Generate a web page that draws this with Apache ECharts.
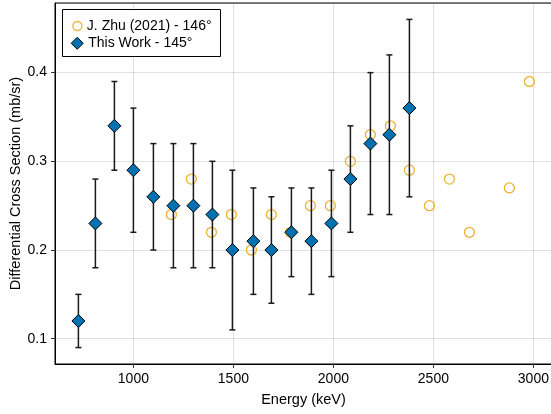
<!DOCTYPE html>
<html>
<head>
<meta charset="utf-8">
<script src="https://cdn.jsdelivr.net/npm/echarts@6/dist/echarts.min.js"></script>
<style>
html,body{margin:0;padding:0;background:#fff;}
#chart{width:551px;height:414px;}
</style>
</head>
<body>
<div id="chart"></div>
<script>
// This Work - 145°
const energyThisWork = [725, 810, 905, 1000, 1100, 1200, 1300, 1395, 1495, 1600, 1690, 1790, 1890, 1990, 2085, 2185, 2280, 2380];
const csThisWork     = [0.12, 0.23, 0.34, 0.29, 0.26, 0.25, 0.25, 0.24, 0.20, 0.21, 0.20, 0.22, 0.21, 0.23, 0.28, 0.32, 0.33, 0.36];
const lowThisWork    = [0.09, 0.18, 0.29, 0.22, 0.20, 0.18, 0.18, 0.18, 0.11, 0.15, 0.14, 0.17, 0.15, 0.17, 0.22, 0.24, 0.24, 0.26];
const highThisWork   = [0.15, 0.28, 0.39, 0.36, 0.32, 0.32, 0.32, 0.30, 0.29, 0.27, 0.26, 0.27, 0.27, 0.29, 0.34, 0.40, 0.42, 0.46];
// J. Zhu (2021) - 146°
const energyZhu = [1190, 1290, 1390, 1490, 1590, 1690, 1785, 1885, 1985, 2085, 2185, 2285, 2380, 2480, 2580, 2680, 2880, 2980];
const csZhu     = [0.24, 0.28, 0.22, 0.24, 0.20, 0.24, 0.22, 0.25, 0.25, 0.30, 0.33, 0.34, 0.29, 0.25, 0.28, 0.22, 0.27, 0.39];

const nameZhu = 'J. Zhu (2021) - 146°';
const nameWork = 'This Work - 145°';
const xTitle = 'Energy (keV)';
const yTitle = 'Differential Cross Section (mb/sr)';

const FONT = '"Liberation Sans", Arial, sans-serif';
const chart = echarts.init(document.getElementById('chart'), null, {renderer: 'canvas'});

const errData = energyThisWork.map((e, i) => [e, lowThisWork[i], highThisWork[i]]);

const legendText = {fontFamily: FONT, fontSize: 14, color: '#000', lineHeight: 16};

chart.setOption({
  animation: false,
  backgroundColor: '#fff',
  textStyle: {fontFamily: FONT},
  grid: {left: 55, top: 3, width: 497, height: 361, containLabel: false, outerBoundsMode: 'none',
    show: true, borderColor: '#000', borderWidth: 1, backgroundColor: 'transparent'},
  graphic: [
    {
      type: 'rect', z: 50, silent: true,
      shape: {x: 62.5, y: 9.5, width: 158, height: 47},
      style: {fill: '#fff', stroke: '#000', lineWidth: 1}
    },
    {
      type: 'text', z: 50, silent: true,
      x: 15.5, y: 183.5, rotation: Math.PI / 2,
      style: {text: yTitle, fontFamily: FONT, fontSize: 14.5, fill: '#000', align: 'center', verticalAlign: 'middle'}
    }
  ],
  legend: [
    {
      left: 72.2, top: 18, orient: 'vertical', padding: 0, z: 60,
      itemWidth: 9, itemHeight: 9, selectedMode: false,
      textStyle: legendText,
      data: [{name: nameZhu, icon: 'circle', itemStyle: {color: '#fff', borderColor: '#E69F00', borderWidth: 1.3}}]
    },
    {
      left: 70.7, top: 35.3, orient: 'vertical', padding: 0, z: 60,
      itemWidth: 12, itemHeight: 12, selectedMode: false,
      textStyle: legendText,
      data: [{name: nameWork, icon: 'diamond', itemStyle: {color: '#0072B2', borderColor: '#000', borderWidth: 1}}]
    }
  ],
  xAxis: {
    type: 'value', min: 608, max: 3093, splitNumber: 5,
    name: xTitle, nameLocation: 'middle', nameGap: 28,
    nameTextStyle: {fontFamily: FONT, fontSize: 14.5, color: '#000'},
    axisLine: {show: true, lineStyle: {color: '#000', width: 1}},
    axisTick: {show: true, inside: false, length: 4, lineStyle: {color: '#333', width: 1}},
    axisLabel: {margin: 8, fontFamily: FONT, fontSize: 14, color: '#000', showMinLabel: false, showMaxLabel: false,
      formatter: v => String(Math.round(v))},
    splitLine: {show: true, lineStyle: {color: 'rgba(0,0,0,0.12)', width: 1}}
  },
  yAxis: {
    type: 'value', min: 0.0715, max: 0.4785, splitNumber: 4,
    axisLine: {show: true, lineStyle: {color: '#000', width: 1}},
    axisTick: {show: true, inside: false, length: 4, lineStyle: {color: '#333', width: 1}},
    axisLabel: {margin: 8, fontFamily: FONT, fontSize: 14, color: '#000', showMinLabel: false, showMaxLabel: false,
      formatter: v => (Math.round(v * 10) / 10).toString()},
    splitLine: {show: true, lineStyle: {color: 'rgba(0,0,0,0.12)', width: 1}}
  },
  series: [
    {
      name: nameZhu, type: 'scatter', symbol: 'circle', symbolSize: 10, z: 2,
      itemStyle: {color: 'rgba(255,255,255,0)', borderColor: '#E69F00', borderWidth: 1.3},
      data: energyZhu.map((e, i) => [e, csZhu[i]])
    },
    {
      name: 'err', type: 'custom', z: 3, silent: true,
      renderItem: function (params, api) {
        const x = api.value(0);
        const lo = api.coord([x, api.value(1)]);
        const hi = api.coord([x, api.value(2)]);
        const hw = 3;
        const style = {stroke: '#1a1a1a', lineWidth: 1.5};
        return {type: 'group', children: [
          {type: 'line', shape: {x1: lo[0], y1: lo[1], x2: hi[0], y2: hi[1]}, style: style},
          {type: 'line', shape: {x1: lo[0] - hw, y1: lo[1], x2: lo[0] + hw, y2: lo[1]}, style: style},
          {type: 'line', shape: {x1: hi[0] - hw, y1: hi[1], x2: hi[0] + hw, y2: hi[1]}, style: style}
        ]};
      },
      encode: {x: 0, y: [1, 2]},
      data: errData
    },
    {
      name: nameWork, type: 'scatter', symbol: 'diamond', symbolSize: 13, z: 4,
      itemStyle: {color: '#0072B2', borderColor: '#000', borderWidth: 1, opacity: 1},
      data: energyThisWork.map((e, i) => [e, csThisWork[i]])
    }
  ]
});
</script>
</body>
</html>
